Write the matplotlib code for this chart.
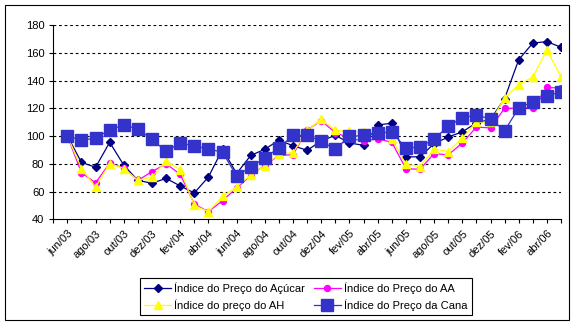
import matplotlib.pyplot as plt
from matplotlib.patches import Rectangle

plt.rcParams['font.family'] = ['Liberation Sans', 'DejaVu Sans']

# monthly series, jun/03 .. mai/06
months = ['jun/03', 'jul/03', 'ago/03', 'set/03', 'out/03', 'nov/03', 'dez/03', 'jan/04',
          'fev/04', 'mar/04', 'abr/04', 'mai/04', 'jun/04', 'jul/04', 'ago/04', 'set/04',
          'out/04', 'nov/04', 'dez/04', 'jan/05', 'fev/05', 'mar/05', 'abr/05', 'mai/05',
          'jun/05', 'jul/05', 'ago/05', 'set/05', 'out/05', 'nov/05', 'dez/05', 'jan/06',
          'fev/06', 'mar/06', 'abr/06', 'mai/06']

acucar = [100, 81, 77.5, 95.5, 79, 68, 66, 69.5, 64, 59, 70.5, 90.5, 73, 86, 90.5, 97,
          93, 89.7, 96.5, 100.5, 95, 93.3, 108, 109.2, 85, 85, 94.5, 99.3, 103, 109.5,
          112, 127, 155, 167, 168, 164]
aa = [100, 73.5, 66.3, 80.5, 77, 68, 74.4, 80, 72.4, 51, 45.5, 53.4, 62.5, 71.5, 79, 86,
      86.5, 104.5, 111, 102.5, 98.5, 96.3, 98, 95.5, 76.5, 76, 87.4, 86.4, 95, 106.5,
      105.8, 120, 120, 120.5, 135, 134.5]
ah = [100, 76.6, 63.2, 80.2, 76.6, 68, 70.5, 82, 75.7, 50, 45.5, 56.5, 63.5, 72, 78.5,
      87.2, 88, 104, 112, 104, 103.3, 103, 102, 98, 79.5, 78, 90.7, 88.8, 98.5, 110,
      110, 127.5, 137, 142.5, 162, 142.5]
cana = [100, 97, 98.5, 104.4, 108, 105, 97.6, 89, 95, 92.8, 90.7, 88.3, 71.2, 77.6, 84.2,
        91.6, 100.5, 100.5, 96.2, 90.5, 99.7, 100.4, 102, 103, 91.3, 92.1, 97.8, 107.1,
        113.2, 115, 112.4, 103.8, 120.2, 124.6, 128.8, 132]

x = list(range(len(months)))

fig = plt.figure(figsize=(5.76, 3.26), dpi=100)
ax = fig.add_axes([0.0925, 0.3273, 0.974 - 0.0925, 0.9233 - 0.3273])

l1, = ax.plot(x, acucar, color='#000080', lw=0.9, marker='D', ms=4.5,
              label='Índice do Preço do Açúcar')
l2, = ax.plot(x, aa, color='#FF00FF', lw=0.9, marker='o', ms=4.3,
              label='Índice do Preço do AA')
l3, = ax.plot(x, ah, color='#FFFF00', lw=0.9, marker='^', ms=6.2,
              label='Índice do preço do AH')
l4, = ax.plot(x, cana, color='#3333CC', lw=0.9, marker='s', ms=8.3,
              label='Índice do Preço da Cana')

ax.set_xlim(-1, len(months) - 1)
ax.set_ylim(40, 180)
ax.set_yticks(range(40, 181, 20))
for v in range(60, 181, 20):
    ax.axhline(v, color='black', lw=0.8, ls=(0, (2.5, 2.5)), zorder=0)

ax.set_xticks(range(-1, len(months)), minor=True)
ax.set_xticks(x[::2])
ax.set_xticklabels(months[::2], rotation=45, ha='right', va='top',
                   rotation_mode='anchor', fontsize=8)
ax.tick_params(axis='x', which='both', length=3, width=0.8, direction='out')
ax.tick_params(axis='y', length=3, width=0.8, labelsize=8)

for s in ['top', 'right']:
    ax.spines[s].set_visible(False)
for s in ['left', 'bottom']:
    ax.spines[s].set_linewidth(0.8)

leg = fig.legend([l1, l3, l2, l4], [l1.get_label(), l3.get_label(), l2.get_label(), l4.get_label()],
                 ncol=2, loc='center', bbox_to_anchor=(0.531, 0.09), fontsize=8,
                 fancybox=False, edgecolor='black', framealpha=1, handlelength=2.4,
                 handletextpad=0.3, columnspacing=0.8, borderpad=0.4, labelspacing=0.45)
leg.get_frame().set_linewidth(0.8)

fig.patches.append(Rectangle((5 / 576, 1 - 320 / 326), 564 / 576, 315 / 326,
                             transform=fig.transFigure, fill=False, edgecolor='black', lw=0.8))

plt.savefig('out.png', dpi=100)
